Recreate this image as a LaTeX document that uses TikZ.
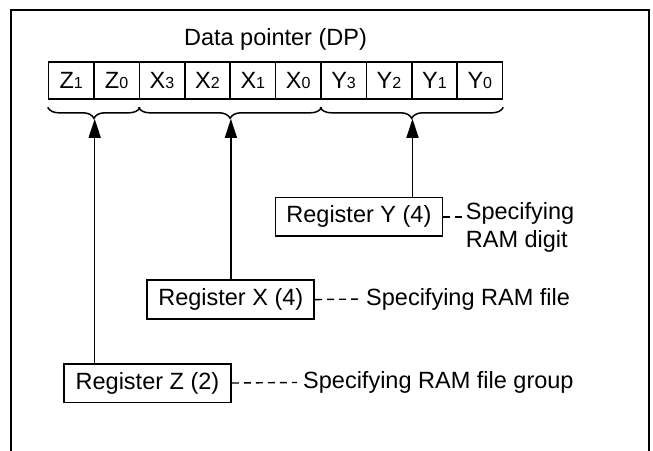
\documentclass[tikz,border=0pt]{standalone}
\usepackage{fontspec}
\setmainfont{Liberation Sans}
\usetikzlibrary{arrows.meta,decorations.pathreplacing,calc}
\begin{document}
\begin{tikzpicture}[x=1pt,y=-1pt,
  txt/.style={font=\fontsize{23.5}{28.7}\selectfont, inner sep=0pt},
  cell/.style={draw, line width=1.6pt, minimum width=45.4pt, minimum height=37pt, inner sep=0pt, font=\fontsize{23.5}{28}\selectfont},
  reg/.style={draw, line width=1.8pt, minimum width=167pt, minimum height=38.8pt, inner sep=0pt, font=\fontsize{23.5}{28}\selectfont},
  br/.style={decorate, decoration={brace, amplitude=11pt, mirror}, line width=1.5pt},
  ar/.style={line width=1.5pt, -{Triangle[length=19pt,width=12pt]}},
  dsh/.style={line width=1.4pt, dash pattern=on 7pt off 5pt},
  frame/.style={line width=2.2pt}]
\useasboundingbox (0,0) rectangle (653,450);
\draw[frame] (10.7,452) -- (10.7,10) -- (649.3,10) -- (649.3,452);
\node[txt] (title) at (275.5,39) {Data pointer (DP)};
\foreach \t [count=\i from 0] in {Z{\fontsize{16}{16}\selectfont 1},Z{\fontsize{16}{16}\selectfont 0},X{\fontsize{16}{16}\selectfont 3},X{\fontsize{16}{16}\selectfont 2},X{\fontsize{16}{16}\selectfont 1},X{\fontsize{16}{16}\selectfont 0},Y{\fontsize{16}{16}\selectfont 3},Y{\fontsize{16}{16}\selectfont 2},Y{\fontsize{16}{16}\selectfont 1},Y{\fontsize{16}{16}\selectfont 0}}
  \node[cell] (c\i) at ({48.5+45.4*(\i+0.5)},80.5) {\t};
\draw[br] ([yshift=-7.5pt]c0.south west) -- ([yshift=-7.5pt]c1.south east);
\draw[br] ([yshift=-7.5pt]c2.south west) -- ([yshift=-7.5pt]c5.south east);
\draw[br] ([yshift=-7.5pt]c6.south west) -- ([yshift=-7.5pt]c9.south east);
\coordinate (bz) at ([yshift=-19pt]c0.south east);
\coordinate (bx) at ([yshift=-19pt]c3.south east);
\coordinate (by) at ([yshift=-19pt]c7.south east);
\node[reg] (regY) at (358.9,216.9) {Register Y (4)};
\node[reg] (regX) at (230.8,299.6) {Register X (4)};
\node[reg] (regZ) at (147.5,383) {Register Z (2)};
\draw[ar] (regY.north -| by) -- (by);
\draw[ar] (regX.north -| bx) -- (bx);
\draw[ar] (regZ.north -| bz) -- (bz);
\node[txt, anchor=west, align=left] (tY) at (465.7,227.5) {Specifying\\RAM digit};
\node[txt, anchor=west] (tX) at (366,299) {Specifying RAM file};
\node[txt, anchor=west] (tZ) at (303,382.5) {Specifying RAM file group};
\draw[dsh] (regY.east) -- ($(regY.east -| tY.west)+(-4,0)$);
\draw[dsh] (regX.east) -- ($(tX.west)+(-5,0)$);
\draw[dsh] (regZ.east) -- ($(tZ.west)+(-6,0)$);
\end{tikzpicture}
\end{document}
